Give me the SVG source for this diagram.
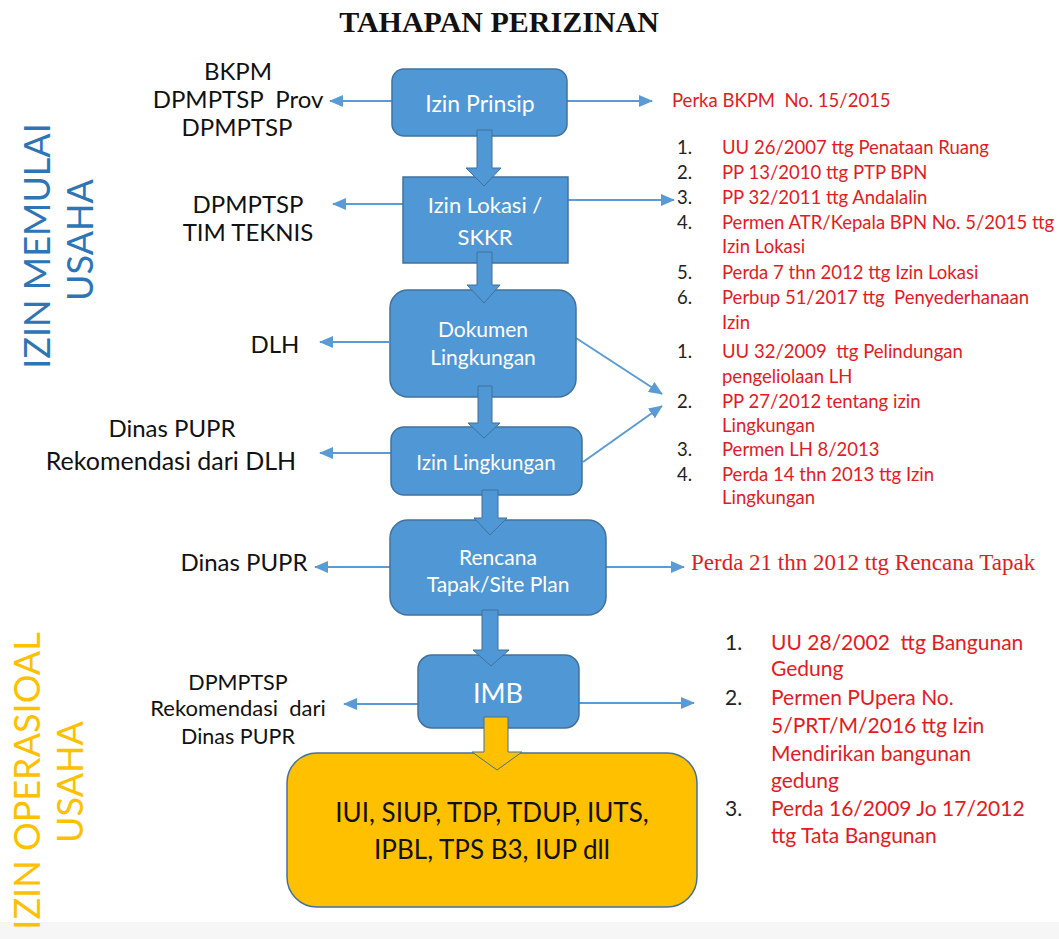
<svg xmlns="http://www.w3.org/2000/svg" width="1059" height="939" viewBox="0 0 1059 939">
<style>
.bx{fill:#5097d5;stroke:#41719c;stroke-width:1.5}
.yb{fill:#ffc000;stroke:#41719c;stroke-width:1.5}
.ba{fill:#5097d5;stroke:#41719c;stroke-width:1}
.ya{fill:#ffc000;stroke:#41719c;stroke-width:1}
.ln{stroke:#5b9bd5;stroke-width:2;fill:none}
.wt{font-family:Lato,'Open Sans',sans-serif;fill:#fff;text-anchor:middle}
.lb{font-family:Lato,'Open Sans',sans-serif;fill:#111;text-anchor:middle;white-space:pre}
.rd{font-family:Lato,'Open Sans',sans-serif;fill:#e31b23;font-size:18.5px;white-space:pre}
.nm{font-family:Lato,'Open Sans',sans-serif;fill:#222;font-size:18.5px}
.rd3{font-family:Lato,'Open Sans',sans-serif;fill:#e31b23;font-size:21px;white-space:pre}
.nm3{font-family:Lato,'Open Sans',sans-serif;fill:#222;font-size:21px}
.vt{font-family:Lato,'Open Sans',sans-serif;font-size:36px;text-anchor:middle}
</style>
<defs>
<marker id="ah" markerUnits="userSpaceOnUse" markerWidth="14" markerHeight="12" refX="13" refY="6" orient="auto">
<path d="M0,0 L14,6 L0,12 Z" fill="#5b9bd5"/>
</marker>
<clipPath id="cl2"><rect x="600" y="310" width="459" height="197"/></clipPath>
</defs>
<rect x="0" y="0" width="1059" height="939" fill="#fff"/>
<rect x="0" y="922" width="1059" height="17" fill="#f6f6f6"/>

<text x="499" y="32" font-family="'Liberation Serif',serif" font-weight="bold" font-size="30" text-anchor="middle" fill="#111">TAHAPAN PERIZINAN</text>

<g id="side-labels">
<text class="vt" fill="#2e75b6" transform="translate(50,246) rotate(-90)">IZIN MEMULAI</text>
<text class="vt" fill="#2e75b6" transform="translate(93,240) rotate(-90)">USAHA</text>
<text class="vt" fill="#ffc000" transform="translate(40,781) rotate(-90)">IZIN OPERASIOAL</text>
<text class="vt" fill="#ffc000" transform="translate(83,782) rotate(-90)">USAHA</text>
</g>

<g id="connectors">
<line class="ln" x1="392" y1="101" x2="330" y2="101" marker-end="url(#ah)"/>
<line class="ln" x1="567" y1="101" x2="652" y2="101" marker-end="url(#ah)"/>
<line class="ln" x1="403" y1="204" x2="333" y2="204" marker-end="url(#ah)"/>
<line class="ln" x1="568" y1="200" x2="674" y2="200" marker-end="url(#ah)"/>
<line class="ln" x1="389" y1="342" x2="320" y2="342" marker-end="url(#ah)"/>
<line class="ln" x1="391" y1="453" x2="320" y2="453" marker-end="url(#ah)"/>
<line class="ln" x1="576" y1="338" x2="662" y2="394" marker-end="url(#ah)"/>
<line class="ln" x1="583" y1="462" x2="662" y2="406" marker-end="url(#ah)"/>
<line class="ln" x1="390" y1="567" x2="315" y2="567" marker-end="url(#ah)"/>
<line class="ln" x1="606" y1="567" x2="684" y2="567" marker-end="url(#ah)"/>
<line class="ln" x1="418" y1="704" x2="344" y2="704" marker-end="url(#ah)"/>
<line class="ln" x1="579" y1="703" x2="694" y2="703" marker-end="url(#ah)"/>
</g>

<g id="izin-prinsip">
<rect class="bx" x="392" y="69" width="175" height="67" rx="12"/>
<text class="wt" x="480" y="112" font-size="23">Izin Prinsip</text>
</g>
<g id="izin-lokasi">
<rect class="bx" x="403" y="177" width="165" height="86"/>
<text class="wt" x="485" y="213" font-size="22">Izin Lokasi /</text>
<text class="wt" x="485" y="245" font-size="22">SKKR</text>
</g>
<g id="dokumen-lingkungan">
<rect class="bx" x="390" y="290" width="186" height="107" rx="18"/>
<text class="wt" x="483" y="337" font-size="21">Dokumen</text>
<text class="wt" x="483" y="365" font-size="21">Lingkungan</text>
</g>
<g id="izin-lingkungan">
<rect class="bx" x="391" y="427" width="191" height="68" rx="13"/>
<text class="wt" x="486" y="470" font-size="20.5">Izin Lingkungan</text>
</g>
<g id="rencana-tapak">
<rect class="bx" x="390" y="520" width="216" height="95" rx="18"/>
<text class="wt" x="498" y="565" font-size="21">Rencana</text>
<text class="wt" x="498" y="592" font-size="21">Tapak/Site Plan</text>
</g>
<g id="imb">
<rect class="bx" x="418" y="655" width="161" height="73" rx="14"/>
<text class="wt" x="498" y="703" font-size="27">IMB</text>
</g>
<g id="izin-operasional">
<rect class="yb" x="287" y="753" width="410" height="154" rx="30"/>
<text class="lb" x="492" y="822" font-size="26">IUI, SIUP, TDP, TDUP, IUTS,</text>
<text class="lb" x="492" y="859" font-size="26">IPBL, TPS B3, IUP dll</text>
</g>

<g id="block-arrows">
<polygon class="ba" points="477,130 477,168 466,168 484,186 501,168 492,168 492,130"/>
<polygon class="ba" points="477,252 477,285 467,285 484,303 500,285 492,285 492,252"/>
<polygon class="ba" points="478,386 478,423 468,423 484,438 500,423 492,423 492,386"/>
<polygon class="ba" points="482,490 482,518 474,518 490,535 507,518 498,518 498,490"/>
<polygon class="ba" points="482,610 482,650 473,650 491,666 509,650 498,650 498,610"/>
<polygon class="ya" points="484,717 484,752 472,752 497,770 522,752 508,752 508,717"/>
</g>

<g id="left-labels">
<text class="lb" x="238" y="80" font-size="24">BKPM</text>
<text class="lb" x="238" y="108" font-size="24">DPMPTSP  Prov</text>
<text class="lb" x="237" y="136" font-size="24">DPMPTSP</text>
<text class="lb" x="248" y="213" font-size="24">DPMPTSP</text>
<text class="lb" x="248" y="241" font-size="24">TIM TEKNIS</text>
<text class="lb" x="275" y="353" font-size="24">DLH</text>
<text class="lb" x="172" y="437" font-size="24">Dinas PUPR</text>
<text class="lb" x="171" y="470" font-size="25">Rekomendasi dari DLH</text>
<text class="lb" x="244" y="571" font-size="24">Dinas PUPR</text>
<text class="lb" x="238" y="690" font-size="21.5">DPMPTSP</text>
<text class="lb" x="238" y="716" font-size="22">Rekomendasi  dari</text>
<text class="lb" x="238" y="744" font-size="21.5">Dinas PUPR</text>
</g>

<g id="ref-prinsip">
<text class="rd" x="672" y="107" fill="#f01010">Perka BKPM  No. 15/2015</text>
</g>

<g id="ref-lokasi">
<text class="nm" x="677" y="154">1.</text><text class="rd" x="722" y="154">UU 26/2007 ttg Penataan Ruang</text>
<text class="nm" x="677" y="179">2.</text><text class="rd" x="722" y="179">PP 13/2010 ttg PTP BPN</text>
<text class="nm" x="677" y="204">3.</text><text class="rd" x="722" y="204">PP 32/2011 ttg Andalalin</text>
<text class="nm" x="677" y="229">4.</text><text class="rd" x="722" y="229">Permen ATR/Kepala BPN No. 5/2015 ttg</text>
<text class="rd" x="722" y="253">Izin Lokasi</text>
<text class="nm" x="677" y="279">5.</text><text class="rd" x="722" y="279">Perda 7 thn 2012 ttg Izin Lokasi</text>
<text class="nm" x="677" y="304">6.</text><text class="rd" x="722" y="304">Perbup 51/2017 ttg  Penyederhanaan</text>
<text class="rd" x="722" y="329">Izin</text>
</g>

<g id="ref-lingkungan" clip-path="url(#cl2)">
<text class="nm" x="677" y="358">1.</text><text class="rd" x="722" y="358">UU 32/2009  ttg Pelindungan</text>
<text class="rd" x="722" y="383">pengeliolaan LH</text>
<text class="nm" x="677" y="408">2.</text><text class="rd" x="722" y="408">PP 27/2012 tentang izin</text>
<text class="rd" x="722" y="432">Lingkungan</text>
<text class="nm" x="677" y="456">3.</text><text class="rd" x="722" y="456">Permen LH 8/2013</text>
<text class="nm" x="677" y="481">4.</text><text class="rd" x="722" y="481">Perda 14 thn 2013 ttg Izin</text>
<text class="rd" x="722" y="504">Lingkungan</text>
</g>

<g id="ref-rencana">
<text x="691" y="570" font-family="'Liberation Serif',serif" font-size="23" fill="#e31b23">Perda 21 thn 2012 ttg Rencana Tapak</text>
</g>

<g id="ref-imb">
<text class="nm3" x="725" y="650">1.</text><text class="rd3" x="771" y="650">UU 28/2002  ttg Bangunan</text>
<text class="rd3" x="771" y="676">Gedung</text>
<text class="nm3" x="725" y="705">2.</text><text class="rd3" x="771" y="705">Permen PUpera No.</text>
<text class="rd3" x="771" y="733">5/PRT/M/2016 ttg Izin</text>
<text class="rd3" x="771" y="761">Mendirikan bangunan</text>
<text class="rd3" x="771" y="788">gedung</text>
<text class="nm3" x="725" y="816">3.</text><text class="rd3" x="771" y="816">Perda 16/2009 Jo 17/2012</text>
<text class="rd3" x="771" y="843">ttg Tata Bangunan</text>
</g>
</svg>
